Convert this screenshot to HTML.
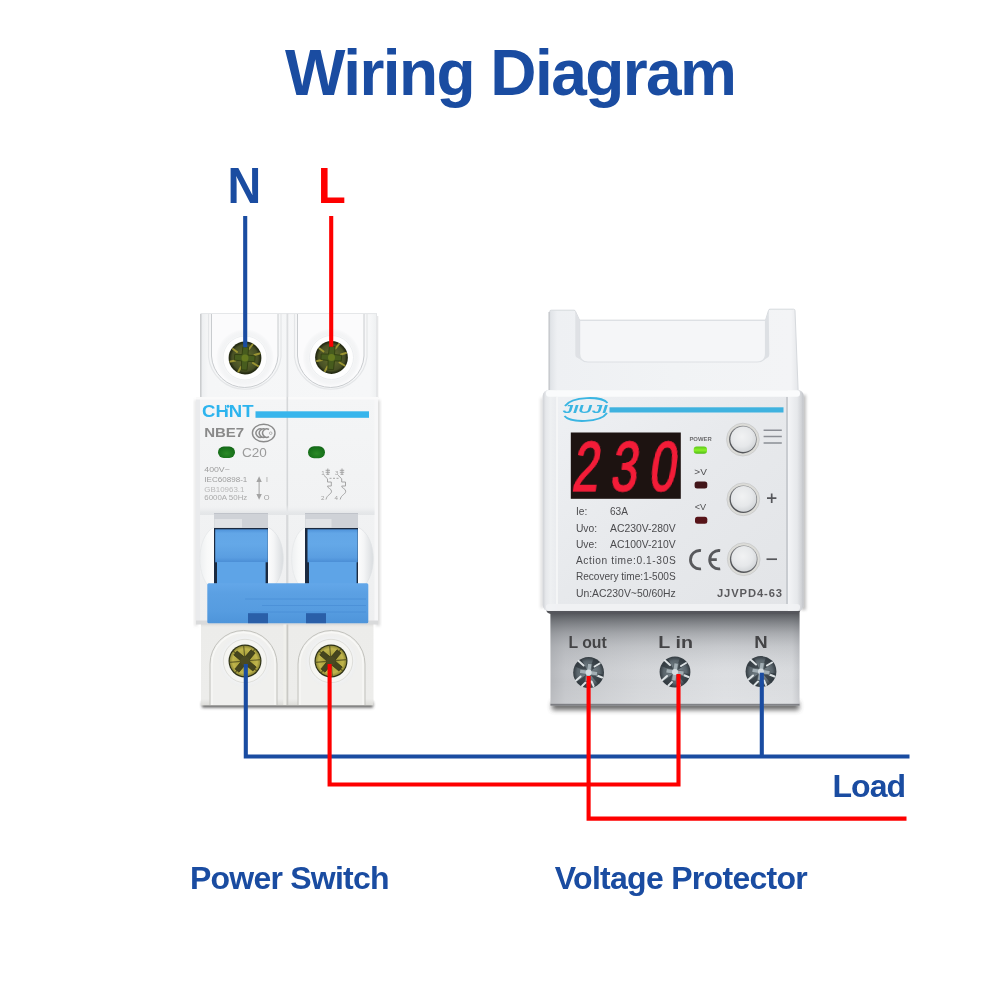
<!DOCTYPE html>
<html lang="en">
<head>
<meta charset="utf-8">
<title>Wiring Diagram</title>
<style>
html,body{margin:0;padding:0;background:#fff;}
body{width:1000px;height:1000px;overflow:hidden;position:relative;font-family:"Liberation Sans",sans-serif;}
svg{position:absolute;left:0;top:0;display:block;will-change:transform;}
text{font-family:"Liberation Sans",sans-serif;}
.b{font-weight:700;}
.blue{fill:#1a4ca1;}
.red{fill:#fe0000;}
</style>
</head>
<body>
<svg width="1000" height="1000" viewBox="0 0 1000 1000">
<defs>
<filter id="blur1" x="-20%" y="-20%" width="140%" height="140%"><feGaussianBlur stdDeviation=".6"/></filter>
<filter id="blur2" x="-50%" y="-10%" width="200%" height="120%"><feGaussianBlur stdDeviation="1.500"/></filter>
<filter id="blur4" x="-5%" y="-150%" width="110%" height="400%"><feGaussianBlur stdDeviation="1.600"/></filter>
<filter id="blur3" x="-10%" y="-100%" width="120%" height="300%"><feGaussianBlur stdDeviation="2.500"/></filter>
<linearGradient id="gUp" x1="0" y1="0" x2="1" y2="0">
  <stop offset="0" stop-color="#eceef0"/><stop offset=".04" stop-color="#f5f6f7"/><stop offset=".96" stop-color="#f6f7f8"/><stop offset="1" stop-color="#eef0f1"/>
</linearGradient>
<linearGradient id="gLow" x1="0" y1="0" x2="0" y2="1">
  <stop offset="0" stop-color="#d6d6d2"/><stop offset=".06" stop-color="#ececea"/><stop offset=".92" stop-color="#ededeb"/><stop offset="1" stop-color="#dcdcd8"/>
</linearGradient>
<linearGradient id="gPanel" x1="0" y1="0" x2="0" y2="1">
  <stop offset="0" stop-color="#f4f5f6"/><stop offset=".5" stop-color="#f1f2f3"/><stop offset="1" stop-color="#eeeff0"/>
</linearGradient>
<radialGradient id="gLed" cx=".5" cy=".6" r=".7">
  <stop offset="0" stop-color="#2a8a26"/><stop offset=".7" stop-color="#17701a"/><stop offset="1" stop-color="#0d5a14"/>
</radialGradient>
<linearGradient id="gHandle" x1="0" y1="0" x2="0" y2="1">
  <stop offset="0" stop-color="#4f93da"/><stop offset=".12" stop-color="#62a6e7"/><stop offset=".45" stop-color="#64a8e8"/><stop offset=".85" stop-color="#5a9ee1"/><stop offset="1" stop-color="#4a8dd5"/>
</linearGradient>
<linearGradient id="gBar" x1="0" y1="0" x2="0" y2="1">
  <stop offset="0" stop-color="#63a7e9"/><stop offset=".25" stop-color="#5ba0e3"/><stop offset=".7" stop-color="#569ce0"/><stop offset="1" stop-color="#4e95da"/>
</linearGradient>
<radialGradient id="gScrewG" cx=".5" cy=".5" r=".5">
  <stop offset="0" stop-color="#6c7f24"/><stop offset=".45" stop-color="#57602a"/><stop offset=".85" stop-color="#474f25"/><stop offset="1" stop-color="#262c14"/>
</radialGradient>
<radialGradient id="gScrewY" cx=".5" cy=".5" r=".5">
  <stop offset="0" stop-color="#6a6a2c"/><stop offset=".4" stop-color="#aba23e"/><stop offset=".8" stop-color="#c0b54c"/><stop offset="1" stop-color="#8d8734"/>
</radialGradient>
<radialGradient id="gRing" cx=".5" cy=".5" r=".5">
  <stop offset="0" stop-color="#ffffff"/><stop offset=".74" stop-color="#ffffff"/><stop offset=".8" stop-color="#f3f4f5"/><stop offset="1" stop-color="#e9ebed" stop-opacity="0"/>
</radialGradient>
<g id="screwG">
  <circle r="29" fill="url(#gRing)"/>
  <circle r="22" fill="#fefefe" stroke="#eceef0" stroke-width="1"/>
  <circle r="16.400" fill="#252b12"/>
  <circle r="15.400" fill="url(#gScrewG)"/>
  <g stroke="#a49c34" stroke-width="2" stroke-linecap="round" opacity=".9">
    <path d="M4 -9L7.500 -13.500M9.500 -3L14.500 -4.500M8 5L13 8M-4 9L-6.500 13.500M-9.500 2.500L-14.500 3.500M-8 -6L-12 -9"/>
  </g>
  <path d="M-2.800 -11H2.800V-3.200L10 -2.800V2.800L3.200 3.200L2.800 12H-2.800L-3.200 3.200L-10.500 2.800V-2.800L-3.200 -3.200Z" fill="#475c1e" stroke="#2f3b10" stroke-width=".8" transform="rotate(4)"/>
  <circle r="3.500" fill="#65791f"/>
</g>
<g id="screwY">
  <circle r="27" fill="url(#gRing)"/>
  <circle r="21.700" fill="#f5f5f2" stroke="#dededa" stroke-width="1"/>
  <circle r="16.500" fill="#2c3016"/>
  <circle r="15.300" fill="url(#gScrewY)"/>
  <g stroke="#55521f" stroke-width="1.100" opacity=".85">
    <path d="M0 -15.500V15.500M-15.500 0H15.500M-11 -11L11 11M-11 11L11 -11" transform="rotate(-5)"/>
  </g>
  <path d="M-2.600 -12.500H2.600V-2.600H12.500V2.600H2.600V12.500H-2.600V2.600H-12.500V-2.600H-2.600Z" fill="#45451f" stroke="#2f2f10" stroke-width=".6" transform="rotate(40)"/>
  <circle r="4.600" fill="#4b4a22"/>
</g>
<linearGradient id="gLedge" x1="0" y1="0" x2="0" y2="1">
  <stop offset="0" stop-color="#f2f3f4" stop-opacity="0"/><stop offset=".7" stop-color="#e6e8ea"/><stop offset="1" stop-color="#e3e5e7"/>
</linearGradient>
<linearGradient id="gHubL" x1="0" y1="0" x2="1" y2="0">
  <stop offset="0" stop-color="#eef0f1"/><stop offset=".5" stop-color="#f8f9f9"/><stop offset="1" stop-color="#fcfcfc"/>
</linearGradient>
<linearGradient id="gHubR" x1="0" y1="0" x2="1" y2="0">
  <stop offset="0" stop-color="#fdfdfd"/><stop offset=".4" stop-color="#f4f5f6"/><stop offset="1" stop-color="#d9dcdf"/>
</linearGradient>
<filter id="glow" x="-10%" y="-10%" width="120%" height="120%"><feGaussianBlur stdDeviation=".7" result="b"/><feMerge><feMergeNode in="b"/><feMergeNode in="SourceGraphic"/></feMerge></filter>
<linearGradient id="gPUp" x1="0" y1="0" x2="1" y2="0">
  <stop offset="0" stop-color="#dfe2e6"/><stop offset=".03" stop-color="#eef0f3"/><stop offset=".5" stop-color="#f1f3f5"/><stop offset=".97" stop-color="#f3f4f6"/><stop offset="1" stop-color="#e4e6e9"/>
</linearGradient>
<linearGradient id="gPPanel" x1="0" y1="0" x2="1" y2="1">
  <stop offset="0" stop-color="#eff1f4"/><stop offset=".5" stop-color="#e7e9ec"/><stop offset="1" stop-color="#e2e4e7"/>
</linearGradient>
<linearGradient id="gPLowH" x1="0" y1="0" x2="1" y2="0">
  <stop offset="0" stop-color="#b4b6ba"/><stop offset=".06" stop-color="#c3c5c9"/><stop offset=".35" stop-color="#d3d5d8"/><stop offset=".7" stop-color="#dcdee1"/><stop offset=".97" stop-color="#d9dbde"/><stop offset="1" stop-color="#c4c6ca"/>
</linearGradient>
<linearGradient id="gPLowV" x1="0" y1="0" x2="0" y2="1">
  <stop offset="0" stop-color="#3c3e43" stop-opacity=".95"/><stop offset=".05" stop-color="#46484d" stop-opacity=".9"/><stop offset=".13" stop-color="#5a5d62" stop-opacity=".75"/><stop offset=".26" stop-color="#777a7f" stop-opacity=".5"/><stop offset=".4" stop-color="#8f9297" stop-opacity=".27"/><stop offset=".56" stop-color="#a0a3a8" stop-opacity=".1"/><stop offset=".75" stop-color="#fff" stop-opacity="0"/><stop offset="1" stop-color="#fff" stop-opacity=".12"/>
</linearGradient>
<linearGradient id="gLedOn" x1="0" y1="0" x2="0" y2="1">
  <stop offset="0" stop-color="#5cc81a"/><stop offset=".5" stop-color="#8af02a"/><stop offset="1" stop-color="#4cb814"/>
</linearGradient>
<radialGradient id="gBtn" cx=".45" cy=".4" r=".65">
  <stop offset="0" stop-color="#f1f2f3"/><stop offset=".6" stop-color="#e6e8ea"/><stop offset="1" stop-color="#cfd2d5"/>
</radialGradient>
<linearGradient id="gBtnEdge" x1=".8" y1="0" x2=".2" y2="1">
  <stop offset="0" stop-color="#8e9094"/><stop offset="1" stop-color="#4a4c50"/>
</linearGradient>
<radialGradient id="gScrewS" cx=".5" cy=".5" r=".5">
  <stop offset="0" stop-color="#aab5bb"/><stop offset=".3" stop-color="#78848b"/><stop offset=".75" stop-color="#59646b"/><stop offset="1" stop-color="#333b41"/>
</radialGradient>
<g id="btn">
  <circle r="16.400" fill="#dcdcd8" stroke="#c9cacb" stroke-width=".8"/>
  <circle r="13.800" fill="url(#gBtnEdge)"/>
  <circle r="12.800" cx=".3" cy="-.4" fill="url(#gBtn)"/>
</g>
<g id="screwS">
  <circle r="15.400" fill="url(#gScrewS)"/>
  <g fill="#2f373d" opacity=".75">
    <path d="M0 0L-13.500 -6A14.800 14.800 0 0 1 -7 -13Z"/>
    <path d="M0 0L5 -14A14.800 14.800 0 0 1 12 -8.500Z"/>
    <path d="M0 0L14.500 2A14.800 14.800 0 0 1 9.500 11.500Z"/>
    <path d="M0 0L-3 14.500A14.800 14.800 0 0 1 -11.500 9.500Z"/>
  </g>
  <g stroke="#eef3f5" stroke-width="2" stroke-linecap="round" opacity=".9">
    <path d="M-5 -7L-10 -11.500M6 -6L11 -9M8.500 3L13.500 5M-8 4L-12.500 8M3 9L5 13.500M-3 10L-6.500 13.500"/>
  </g>
  <path d="M-2.200 -9H2.200V-2.200H9V2.200H2.200V9H-2.200V2.200H-9V-2.200H-2.200Z" fill="#a3afb5" stroke="#515c62" stroke-width=".7" transform="rotate(8)"/>
  <circle r="3" fill="#d4dce0"/>
</g>
<linearGradient id="gPBevel" x1="0" y1="0" x2="1" y2="0">
  <stop offset="0" stop-color="#cfd1d5"/><stop offset=".012" stop-color="#e6e8eb"/><stop offset=".03" stop-color="#eef0f2"/><stop offset=".054" stop-color="#e9ebee"/><stop offset=".055" stop-color="#e9ebee" stop-opacity="0"/>
  <stop offset=".938" stop-color="#f3f4f6" stop-opacity="0"/><stop offset=".939" stop-color="#f4f5f7"/><stop offset=".975" stop-color="#e6e8eb"/><stop offset=".992" stop-color="#d0d2d6"/><stop offset="1" stop-color="#bfc1c5"/>
</linearGradient>
<!--DEFS-->
</defs>
<rect width="1000" height="1000" fill="#fff"/>

<!-- headings -->
<text id="title" class="b blue" x="285" y="95" font-size="64" textLength="452" lengthAdjust="spacing">Wiring Diagram</text>
<text id="lblN" class="b blue" x="227.600" y="203.300" font-size="50" textLength="33.700" lengthAdjust="spacingAndGlyphs">N</text>
<text id="lblL" class="b red" x="318" y="203.300" font-size="50" textLength="27.700" lengthAdjust="spacingAndGlyphs">L</text>
<text id="lblPS" class="b blue" x="190" y="889" font-size="32" textLength="199.500" lengthAdjust="spacing">Power Switch</text>
<text id="lblVP" class="b blue" x="554.800" y="889" font-size="32" textLength="253" lengthAdjust="spacing">Voltage Protector</text>
<text id="lblLoad" class="b blue" x="832.500" y="797" font-size="32" textLength="73.500" lengthAdjust="spacing">Load</text>

<!-- ===== Breaker (Power Switch) ===== -->
<g id="breaker">
  <!-- drop shadows -->
  <rect x="202" y="702" width="171" height="5.500" fill="#333" filter="url(#blur4)" opacity=".8"/>
  <rect x="194.500" y="400" width="3" height="226" fill="#b8b8b8" filter="url(#blur2)" opacity=".4"/>
  <rect x="376" y="400" width="4" height="226" fill="#b5b5b5" filter="url(#blur2)" opacity=".5"/>
  <!-- upper terminal block -->
  <rect x="201" y="313.600" width="176" height="86" fill="url(#gUp)"/>
  <rect x="201" y="313.600" width="175.500" height="86" fill="none" stroke="#e3e5e7" stroke-width="1"/>
  <rect x="200" y="314" width="1.500" height="84" fill="#cbcdcf"/>
  <rect x="376.300" y="316" width="2" height="82" fill="#e6e7e8"/>
  <rect x="286.500" y="313.600" width="1.800" height="86" fill="#dcdee0"/>
  <g fill="#fbfbfc" stroke="#c9cccf" stroke-width="1">
    <path d="M211.500 314V356A33.300 33.300 0 0 0 278 356V314"/>
    <path d="M297.500 314V356A33.300 33.300 0 0 0 364 356V314"/>
  </g>
  <g fill="none" stroke="#e4e6e8" stroke-width="1.200">
    <path d="M208.500 314V357A36.500 36.500 0 0 0 281 357V314"/>
    <path d="M294.500 314V357A36.500 36.500 0 0 0 367 357V314"/>
  </g>
  <use href="#screwG" x="245" y="358"/>
  <use href="#screwG" x="331.500" y="357.500"/>

  <!-- lower terminal block -->
  <rect x="201" y="622" width="172.500" height="83.500" fill="url(#gLow)"/>
  <rect x="286.300" y="624" width="2" height="81" fill="#c9c9c5"/>
  <rect x="283.300" y="624" width="3" height="81" fill="#f0f0ec"/>
  <g fill="#f0f0ee" stroke="#c2c2bd" stroke-width="1">
    <path d="M210 705V664A33.500 33.500 0 0 1 277 664V705"/>
    <path d="M298 705V664A33.500 33.500 0 0 1 365 664V705"/>
  </g>
  <g fill="none" stroke="#f8f8f6" stroke-width="1.300">
    <path d="M212 705V664A31.500 31.500 0 0 1 275 664V705"/>
    <path d="M300 705V664A31.500 31.500 0 0 1 363 664V705"/>
  </g>
  <use href="#screwY" x="245" y="661"/>
  <use href="#screwY" x="331" y="661"/>

  <!-- front panel -->
  <rect x="196" y="397" width="182" height="227" fill="url(#gPanel)"/>
  <rect x="196" y="397" width="4" height="227" fill="#eaebed"/>
  <rect x="374.500" y="397" width="3.500" height="227" fill="#f7f7f8"/>
  <rect x="196" y="397" width="182" height="2.500" fill="#fafafa"/>
  <rect x="196" y="620.500" width="182" height="4" fill="#d9dadb"/>
  <rect x="286.500" y="397" width="1.600" height="227" fill="#d5d7d9"/>
  <!-- ledges -->
  <rect x="200" y="505" width="174.500" height="10" fill="url(#gLedge)"/>

  <!-- CHNT logo + bar -->
  <text x="202" y="417.300" font-size="15.800" font-weight="700" fill="#2db4ee" textLength="51.500" lengthAdjust="spacingAndGlyphs">CHNT</text>
  <rect x="226.200" y="404.500" width="3.600" height="4.200" fill="#f1f2f3"/>
  <circle cx="228" cy="406.300" r="1.500" fill="#2db4ee"/>
  <rect x="255.500" y="411.300" width="113.500" height="6.500" fill="#37b5ec"/>

  <!-- model -->
  <text x="204.200" y="437" font-size="12.500" font-weight="700" fill="#8a8a8a" textLength="40" lengthAdjust="spacingAndGlyphs">NBE7</text>
  <g fill="none" stroke="#8b8b8b">
    <ellipse cx="263.700" cy="433" rx="11.300" ry="8.800" stroke-width="1.400"/>
    <path d="M262.4 429.5A4.2 4.2 0 1 0 262.4 436.7M265.7 429.5A4.2 4.2 0 1 0 265.7 436.7M269.0 429.5A4.2 4.2 0 1 0 269.0 436.7" stroke-width="1.500"/>
    <circle cx="270.700" cy="433.200" r="1.300" stroke-width=".6"/>
  </g>
  <rect x="218" y="446.500" width="17" height="11.500" rx="5.700" fill="url(#gLed)"/>
  <rect x="308" y="446.300" width="17" height="12" rx="6" fill="url(#gLed)"/>
  <text x="242" y="456.800" font-size="12.300" fill="#9b9b9b" textLength="24.800" lengthAdjust="spacingAndGlyphs">C20</text>

  <!-- ratings -->
  <g font-size="7.600" fill="#9d9d9d">
    <text x="204.300" y="472.200" textLength="25.500" lengthAdjust="spacingAndGlyphs">400V~</text>
    <text x="204.300" y="482" textLength="43" lengthAdjust="spacingAndGlyphs">IEC60898-1</text>
    <text x="204.300" y="491.500" fill="#b9b9b9" textLength="40.200" lengthAdjust="spacingAndGlyphs">GB10963.1</text>
    <text x="204.300" y="500" fill="#aaaaaa" textLength="43" lengthAdjust="spacingAndGlyphs">6000A 50Hz</text>
    <text x="266" y="482" font-size="7">I</text>
    <text x="263.800" y="499.500" font-size="7.400">O</text>
  </g>
  <g fill="#a3a3a3">
    <rect x="258.600" y="480" width="1" height="16"/>
    <path d="M259.100 476.200L261.800 482H256.400Z"/>
    <path d="M259.100 499.800L261.800 494H256.400Z"/>
  </g>
  <!-- pole symbol -->
  <g font-size="6.200" fill="#a0a0a0">
    <text x="321.300" y="474.500">1</text>
    <text x="335" y="474.500">3</text>
    <text x="321" y="500.200">2</text>
    <text x="334.600" y="500.200">4</text>
  </g>
  <g fill="none" stroke="#9c9c9c" stroke-width=".9">
    <path d="M327.800 468.500V474.500M325.600 470.300H330M325.600 472.300H330M326.300 474.300H329.300"/>
    <path d="M342 468.500V474.500M339.800 470.300H344.200M339.800 472.300H344.200M340.500 474.300H343.500"/>
    <path d="M323.800 475.200L327.500 478.800V482H331.300V486H327.500C327.500 488.500 331.500 488.500 331.500 491.200C331.500 494.500 327 494.500 326 499.500"/>
    <path d="M338 475.200L341.700 478.800V482H345.500V486H341.700C341.700 488.500 345.700 488.500 345.700 491.200C345.700 494.500 341.200 494.500 340.200 499.500"/>
    <path d="M329.500 478.300H339" stroke-dasharray="2 1.500"/>
  </g>

  <!-- handle hubs -->
  <path d="M214.500 527C195 536 195 581 214.500 591Z" fill="url(#gHubL)" stroke="#e6e8ea" stroke-width=".8"/>
  <path d="M267.500 527C288.500 536 288.500 581 267.500 591Z" fill="url(#gHubR)" stroke="#e0e2e5" stroke-width=".8"/>
  <path d="M305.500 527C287 536 287 581 305.500 591Z" fill="url(#gHubL)" stroke="#e6e8ea" stroke-width=".8"/>
  <path d="M357.500 527C378.500 536 378.500 581 357.500 591Z" fill="url(#gHubR)" stroke="#e0e2e5" stroke-width=".8"/>
  <rect x="286.300" y="515" width="2" height="108" fill="#d7d9db"/>
  <!-- slots -->
  <g>
    <rect x="214" y="513.800" width="54" height="70" fill="#1b2a40"/>
    <rect x="214" y="513.800" width="54" height="14.200" fill="#cfd2d7"/>
    <rect x="214.500" y="519" width="27.500" height="8.500" fill="#e1e3e6"/>
    <rect x="215.200" y="529.300" width="52.600" height="33" fill="url(#gHandle)"/>
    <rect x="217" y="562" width="48.600" height="22" fill="#5ea4e7"/>
    <rect x="305" y="513.800" width="53" height="70" fill="#1b2a40"/>
    <rect x="305" y="513.800" width="53" height="14.200" fill="#cfd2d7"/>
    <rect x="305.500" y="519" width="26" height="8.500" fill="#e1e3e6"/>
    <rect x="307.500" y="529.300" width="50.200" height="33" fill="url(#gHandle)"/>
    <rect x="309" y="562" width="47.600" height="22" fill="#5ea4e7"/>
  </g>
  <!-- tie bar -->
  <rect x="207.300" y="583.200" width="161" height="40" rx="1.500" fill="url(#gBar)"/>
  <g stroke="#4388d2" stroke-width=".8" opacity=".7">
    <path d="M245 599H366M262 605.500H366M250 612H366"/>
  </g>
  <rect x="248" y="613.200" width="20" height="10" fill="#2a5fa8"/>
  <rect x="306" y="613.200" width="20" height="10" fill="#2a5fa8"/>
</g>
<!--BREAKER_END-->

<!-- ===== Voltage protector ===== -->
<g id="protector">
  <!-- shadows -->
  <rect x="552" y="702" width="247" height="8" fill="#444" filter="url(#blur3)" opacity=".8"/>
  <rect x="801" y="395" width="5" height="215" fill="#999" filter="url(#blur2)" opacity=".6"/>
  <rect x="540.500" y="398" width="3.500" height="210" fill="#b0b0b0" filter="url(#blur2)" opacity=".4"/>
  <!-- upper body with notch -->
  <path d="M549.700 400V311.700Q549.700 310.200 551.200 310.200H574Q575.200 310.200 575.500 311.400L579.600 320.300H765.500L768.500 310.500Q768.800 309.200 770 309.200H793.500Q795 309.200 795 310.700L798.500 400Z" fill="url(#gPUp)"/>
  <path d="M549.700 400V311.700Q549.700 310.200 551.200 310.200H574Q575.200 310.200 575.500 311.400L579.600 320.300H765.500L768.500 310.500Q768.800 309.200 770 309.200H793.500Q795 309.200 795 310.700L798.500 400" fill="none" stroke="#d6d9dd" stroke-width="1"/>
  <path d="M549.200 312V398" stroke="#c9cbcf" stroke-width="1.600"/>
  <path d="M575.300 311L579.600 320.300V354Q579.600 358 582 360.500L576 357Q575.300 356 575.300 354Z" fill="#dfe1e5"/>
  <path d="M768.700 310.500L765.500 320.300V354Q765.500 358 763 360.500L768.500 357Q769.300 356 769.300 354Z" fill="#dde0e4"/>
  <path d="M579.600 320.300H765.500V353.500Q765.500 362 757 362H588Q579.600 362 579.600 353.500Z" fill="#f5f6f8" stroke="#dde0e4" stroke-width="1.200"/>
  <!-- lower terminal block -->
  <rect x="550.500" y="608" width="249" height="97.500" fill="url(#gPLowH)"/>
  <rect x="550.500" y="608" width="249" height="97.500" fill="url(#gPLowV)"/>
  <rect x="550.500" y="703.800" width="249" height="1.800" fill="#6a6c70" opacity=".8"/>
  <g font-size="15.800" font-weight="700" fill="#444446">
    <text x="568.400" y="648">L out</text>
    <text x="658.300" y="648" textLength="34.600" lengthAdjust="spacingAndGlyphs">L in</text>
    <text x="754.200" y="648.200" textLength="13.400" lengthAdjust="spacingAndGlyphs">N</text>
  </g>
  <use href="#screwS" x="588.600" y="672.500"/>
  <use href="#screwS" x="675" y="672"/>
  <use href="#screwS" x="761" y="671.500"/>
  <!-- front panel -->
  <rect x="546" y="395" width="254.500" height="216" rx="5" fill="#55575b" transform="translate(0 3)" filter="url(#blur1)"/>
  <rect x="542.700" y="390" width="261" height="221" rx="6" fill="url(#gPPanel)"/>
  <rect x="542.700" y="390" width="261" height="221" rx="6" fill="url(#gPBevel)"/>
  <rect x="546" y="390.300" width="254" height="6.500" rx="3" fill="#fafbfc"/>
  <rect x="546" y="604" width="254" height="6.500" rx="3" fill="#f1f2f4" opacity=".9"/>
  <path d="M787 397V604" stroke="#c6c9ce" stroke-width="1.800"/>
  <path d="M557 397V604" stroke="#f7f8f9" stroke-width="1.500"/>

  <!-- logo -->
  <g fill="none" stroke="#3ab5e2">
    <path d="M565 406C572 396 602 396 607.500 403" stroke-width="2"/>
    <path d="M607 413C600 423 570 423 564.500 416" stroke-width="2"/>
  </g>
  <text x="562.500" y="413.200" font-size="10.400" font-weight="700" font-style="italic" fill="#3ab5e2" textLength="45" lengthAdjust="spacingAndGlyphs">JIUJI</text>
  <rect x="609.500" y="407.300" width="174" height="5.200" fill="#3fb2df"/>

  <!-- display -->
  <rect x="570.800" y="432.500" width="110" height="66.300" fill="#1d1311"/>
  <g transform="translate(571 490.700) skewX(-8) scale(.68 1)">
    <text x="0 56.600 113.200" y="0" font-size="70" fill="#f31c38" stroke="#f31c38" stroke-width="1.400" filter="url(#glow)">230</text>
  </g>

  <!-- indicator column -->
  <text x="689.400" y="440.800" font-size="6" font-weight="700" fill="#6b6b6d" textLength="22.300" lengthAdjust="spacingAndGlyphs">POWER</text>
  <rect x="693.700" y="446.500" width="13.300" height="7.300" rx="3" fill="url(#gLedOn)"/>
  <text x="694.300" y="474.600" font-size="9.200" fill="#505052" textLength="12.600" lengthAdjust="spacingAndGlyphs">&gt;V</text>
  <rect x="694.600" y="481.600" width="12.700" height="7" rx="2.500" fill="#421519"/>
  <text x="694.800" y="510.300" font-size="8.600" fill="#505052" textLength="11.400" lengthAdjust="spacingAndGlyphs">&lt;V</text>
  <rect x="695" y="516.700" width="12.300" height="7" rx="2.500" fill="#571419"/>

  <!-- buttons -->
  <use href="#btn" x="742.900" y="439.600"/>
  <use href="#btn" x="743.300" y="499.300"/>
  <use href="#btn" x="743.700" y="559.200"/>
  <g stroke="#8b8e95" stroke-width="1.500">
    <path d="M763.600 430.200H781.800M763.600 436.600H781.800M763.600 443H781.800"/>
  </g>
  <g stroke="#55565a" stroke-width="1.700">
    <path d="M767 498.200H776.400M771.700 493.500V502.900"/>
    <path d="M766.500 559.200H777"/>
  </g>

  <!-- specs -->
  <g font-size="10.200" fill="#4b4b4e">
    <text x="575.900" y="515.300">Ie:</text>
    <text x="610" y="515.300" textLength="18" lengthAdjust="spacingAndGlyphs">63A</text>
    <text x="575.900" y="531.600" textLength="21.200" lengthAdjust="spacingAndGlyphs">Uvo:</text>
    <text x="610" y="531.600" textLength="65.800" lengthAdjust="spacingAndGlyphs">AC230V-280V</text>
    <text x="575.900" y="547.500" textLength="21.200" lengthAdjust="spacingAndGlyphs">Uve:</text>
    <text x="610" y="547.500" textLength="65.800" lengthAdjust="spacingAndGlyphs">AC100V-210V</text>
    <text x="575.900" y="564" textLength="99.800" lengthAdjust="spacing">Action time:0.1-30S</text>
    <text x="575.900" y="580.400" textLength="99.800" lengthAdjust="spacingAndGlyphs">Recovery time:1-500S</text>
    <text x="575.900" y="596.900" textLength="99.800" lengthAdjust="spacingAndGlyphs">Un:AC230V~50/60Hz</text>
  </g>
  <!-- CE mark -->
  <g fill="none" stroke="#58595c" stroke-width="2.800">
    <path d="M701.0 550.6A9.2 9.2 0 1 0 701.0 568.8"/>
    <path d="M720.2 550.6A9.2 9.2 0 1 0 720.2 568.8M709.500 559.700H716.800"/>
  </g>
  <text x="717" y="596.900" font-size="11.200" font-weight="700" fill="#5a5a5d" textLength="65" lengthAdjust="spacing">JJVPD4-63</text>
</g>
<!--PROTECTOR_END-->

<!-- wires -->
<g fill="none" stroke-width="4.100" stroke-linecap="butt" stroke-linejoin="miter">
<path d="M245.200 216V347.200" stroke="#1a4ca1"/>
<path d="M331.200 216V346.800" stroke="#fe0000"/>
<path d="M245.800 664V756.500H909.500" stroke="#1a4ca1"/>
<path d="M761.800 672.700V757" stroke="#1a4ca1"/>
<path d="M329.600 664V784.500H678.500V674" stroke="#fe0000"/>
<path d="M588.600 676V818.600H906.500" stroke="#fe0000"/>
</g>
</svg>
</body>
</html>
